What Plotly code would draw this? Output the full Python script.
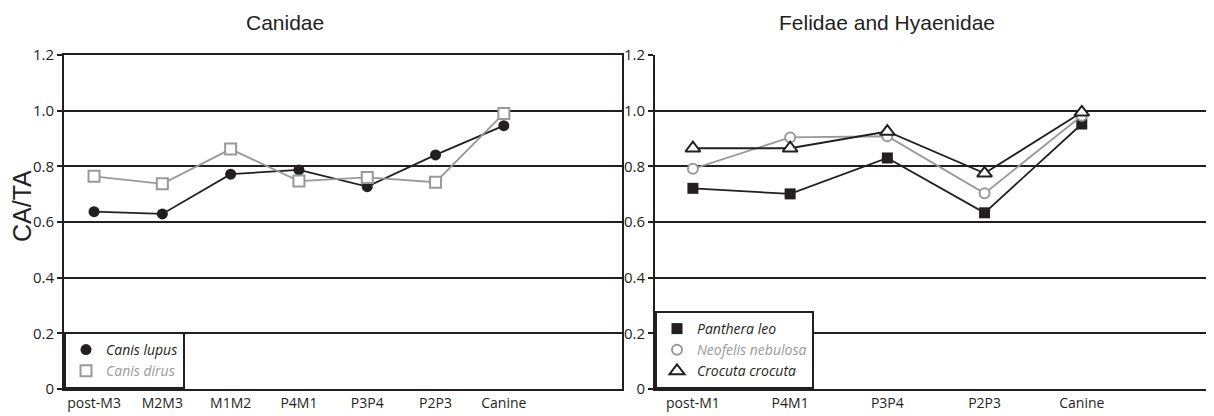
import plotly.graph_objects as go

# ---- data ----
canid_cats = ["post-M3", "M2M3", "M1M2", "P4M1", "P3P4", "P2P3", "Canine"]
canis_lupus = [0.637, 0.629, 0.772, 0.787, 0.727, 0.841, 0.946]
canis_dirus = [0.764, 0.737, 0.862, 0.747, 0.760, 0.743, 0.990]

fel_cats = ["post-M1", "P4M1", "P3P4", "P2P3", "Canine"]
panthera_leo = [0.721, 0.701, 0.830, 0.633, 0.952]
neofelis_nebulosa = [0.791, 0.904, 0.908, 0.703, 0.982]
crocuta_crocuta = [0.865, 0.865, 0.925, 0.775, 0.994]

y_ticks = [0, 0.2, 0.4, 0.6, 0.8, 1.0, 1.2]
y_ticktext = ["0", "0.2", "0.4", "0.6", "0.8", "1.0", "1.2"]

# ---- style / geometry ----
INK = "#231f20"
GREY = "#999999"
OFF = 8                      # browser body margin
FW, FH = 1214 - OFF, 416 - OFF
PLOT_TOP, PLOT_BOT = 55, 389  # page pixels of the plot area
XTICKFONT = dict(family="Open Sans", size=14, color=INK)
YTICKFONT = dict(family="Open Sans", size=15, color=INK)
LEGFONT = dict(family="Open Sans", size=14, color=INK)


def px(xp):
    return (xp - OFF) / FW


def py(yp):
    return (PLOT_BOT - yp) / (PLOT_BOT - PLOT_TOP)


fig = go.Figure()


def add_series(x, y, name, color, symbol, fill, size, xa, ya, legend):
    fig.add_trace(go.Scatter(
        x=x, y=y, mode="lines", line=dict(color=color, width=1.8),
        showlegend=False, xaxis=xa, yaxis=ya, hoverinfo="skip"))
    fig.add_trace(go.Scatter(
        x=x, y=y, mode="markers", name=name, legend=legend,
        marker=dict(symbol=symbol, size=size, color=fill,
                    line=dict(color=color, width=2 if fill == "white" else 0)),
        xaxis=xa, yaxis=ya))


add_series(canid_cats, canis_lupus, "<i>Canis lupus</i>", INK, "circle", INK, 11, "x", "y", "legend")
add_series(canid_cats, canis_dirus, "<i><span style='color:#999999'>Canis dirus</span></i>", GREY,
           "square", "white", 11, "x", "y", "legend")

add_series(fel_cats, panthera_leo, "<i>Panthera leo</i>", INK, "square", INK, 11, "x2", "y2", "legend2")
add_series(fel_cats, neofelis_nebulosa, "<i><span style='color:#999999'>Neofelis nebulosa</span></i>", GREY,
           "circle", "white", 10, "x2", "y2", "legend2")
add_series(fel_cats, crocuta_crocuta, "<i>Crocuta crocuta</i>", INK, "triangle-up", "white", 13, "x2", "y2", "legend2")

x1d = [px(64), px(622)]
x2d = [px(655), 1.0]

common_x = dict(type="category", showline=True, linecolor=INK, linewidth=2, mirror=True,
                showgrid=False, ticks="", tickfont=XTICKFONT, zeroline=False)
common_y = dict(range=[0, 1.2], tickvals=y_ticks, ticktext=y_ticktext, showline=True,
                linecolor=INK, linewidth=2, showgrid=True, gridcolor=INK, gridwidth=2,
                ticks="outside", ticklen=5, tickwidth=2, tickcolor=INK,
                tickfont=YTICKFONT, zeroline=False, domain=[0, 1])

fig.update_layout(
    width=FW, height=FH,
    margin=dict(l=0, r=0, t=PLOT_TOP - OFF, b=FH - (PLOT_BOT - OFF)),
    paper_bgcolor="white", plot_bgcolor="white",
    xaxis=dict(common_x, domain=x1d, range=[-0.44, 7.73], anchor="y"),
    yaxis=dict(common_y, anchor="x", mirror=True),
    xaxis2=dict(common_x, domain=x2d, range=[-0.39, 5.36], anchor="y2", mirror=False),
    yaxis2=dict(common_y, anchor="x2"),
    legend=dict(x=px(64), y=0, xanchor="left", yanchor="bottom", bgcolor="white",
                bordercolor=INK, borderwidth=2, font=LEGFONT, itemwidth=30,
                tracegroupgap=0),
    legend2=dict(x=px(655), y=0, xanchor="left", yanchor="bottom", bgcolor="white",
                 bordercolor=INK, borderwidth=2, font=LEGFONT, itemwidth=30,
                 tracegroupgap=0),
    annotations=[
        dict(text="Canidae", x=px(285), y=py(23), xref="paper", yref="paper",
             showarrow=False, xanchor="center", yanchor="middle",
             font=dict(family="Liberation Sans", size=21, color=INK)),
        dict(text="Felidae and Hyaenidae", x=px(887), y=py(23), xref="paper", yref="paper",
             showarrow=False, xanchor="center", yanchor="middle",
             font=dict(family="Liberation Sans", size=21, color=INK)),
        dict(text="CA/TA", x=px(22), y=py(206), xref="paper", yref="paper",
             showarrow=False, xanchor="center", yanchor="middle", textangle=-90,
             font=dict(family="Liberation Sans", size=25, color=INK)),
    ],
)

fig.write_html("out.html")
